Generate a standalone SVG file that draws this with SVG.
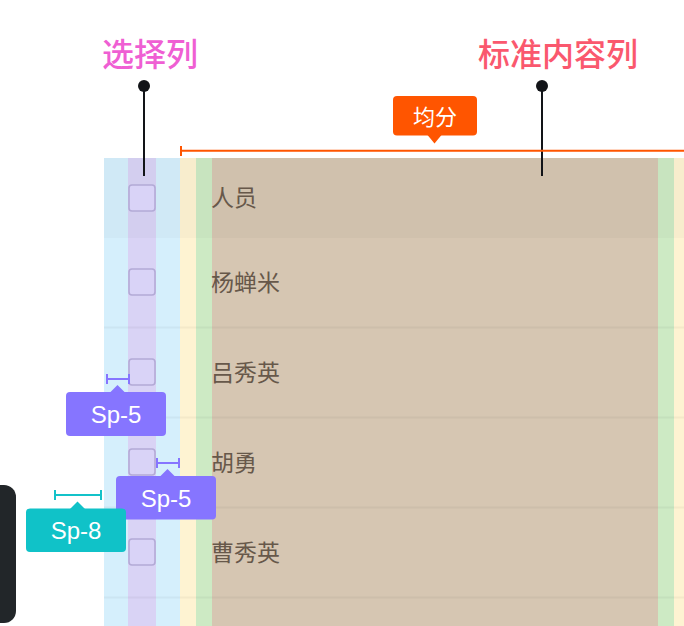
<svg xmlns="http://www.w3.org/2000/svg" width="684" height="626" viewBox="0 0 684 626">
<defs>
<style>
.cjk{font-family:"Noto Sans CJK SC","Noto Sans",sans-serif}
.cell{font-family:"Noto Sans CJK SC",sans-serif;font-size:23px;fill:#67584a}
.tagtxt{font-family:"Liberation Sans","Noto Sans",sans-serif;font-size:24px;fill:#ffffff;text-anchor:middle}
.cb{fill:#d9d3f7;stroke:#b3aad6;stroke-width:1.6}
.rowline{stroke:#000;stroke-opacity:0.04;stroke-width:2}
.pin{stroke:#121418;stroke-width:2}
.meas5{stroke:#8675ff;stroke-width:2;fill:none}
.meas8{stroke:#13c2c9;stroke-width:2;fill:none}
</style>
</defs>
<rect x="0" y="0" width="684" height="626" fill="#ffffff"/>

<g id="table">
  <rect x="104" y="158" width="76" height="468" fill="#d5effc"/>
  <rect x="128" y="158" width="28" height="468" fill="#d9d3f5"/>
  <rect x="180" y="158" width="16" height="468" fill="#fef3d2"/>
  <rect x="196" y="158" width="16" height="468" fill="#cdeac4"/>
  <rect x="212" y="158" width="446" height="468" fill="#d6c6b2"/>
  <rect x="658" y="158" width="16" height="468" fill="#cdeac4"/>
  <rect x="674" y="158" width="10" height="468" fill="#fef3d2"/>
  <rect x="104" y="158" width="580" height="80" fill="#000" fill-opacity="0.025"/>
  <line class="rowline" x1="104" y1="327.5" x2="684" y2="327.5"/>
  <line class="rowline" x1="104" y1="417.5" x2="684" y2="417.5"/>
  <line class="rowline" x1="104" y1="507.5" x2="684" y2="507.5"/>
  <line class="rowline" x1="104" y1="597.5" x2="684" y2="597.5"/>
</g>

<g id="row-header">
  <rect class="cb" x="129" y="185" width="26" height="26" rx="3"/>
  <text class="cell" x="211" y="206">人员</text>
</g>
<g id="row-1">
  <rect class="cb" x="129" y="269" width="26" height="26" rx="3"/>
  <text class="cell" x="211" y="291">杨蝉米</text>
</g>
<g id="row-2">
  <rect class="cb" x="129" y="359" width="26" height="26" rx="3"/>
  <text class="cell" x="211" y="380.5">吕秀英</text>
</g>
<g id="row-3">
  <rect class="cb" x="129" y="449" width="26" height="26" rx="3"/>
  <text class="cell" x="211" y="470.5">胡勇</text>
</g>
<g id="row-4">
  <rect class="cb" x="129" y="539" width="26" height="26" rx="3"/>
  <text class="cell" x="211" y="560.5">曹秀英</text>
</g>

<g id="label-select">
  <text class="cjk" x="102" y="65.5" font-size="32" font-weight="500" fill="#ef5fd3">选择列</text>
</g>
<g id="label-standard">
  <text class="cjk" x="478" y="65.5" font-size="32" font-weight="500" fill="#fa586e">标准内容列</text>
</g>

<g id="connectors">
  <line class="pin" x1="144" y1="86" x2="144" y2="176"/>
  <circle cx="144" cy="86" r="6" fill="#121418"/>
  <line class="pin" x1="542" y1="86" x2="542" y2="176"/>
  <circle cx="542" cy="86" r="6" fill="#121418"/>
  <path d="M181 150.7H684M181 146V156" stroke="#ff5500" stroke-width="2" fill="none"/>
  <path class="meas5" d="M107 379H129M107 374V384M129 374V384"/>
  <path class="meas5" d="M157 463H179M157 458V468M179 458V468"/>
  <path class="meas8" d="M55 495H101M55 490V500M101 490V500"/>
</g>

<g id="tag-junfen">
  <rect x="393" y="96" width="84" height="39.5" rx="4" fill="#ff5500"/>
  <path d="M427.5 135L434.5 143.5L441.5 135Z" fill="#ff5500"/>
  <text class="cjk" x="435" y="124.5" font-size="22" fill="#ffffff" text-anchor="middle">均分</text>
</g>
<g id="tag-sp5-a">
  <rect x="66" y="392" width="100" height="44" rx="4" fill="#8675ff"/>
  <path d="M110 392.5L117.5 385L125 392.5Z" fill="#8675ff"/>
  <text class="tagtxt" x="116" y="422.5">Sp-5</text>
</g>
<g id="tag-sp5-b">
  <rect x="116" y="476" width="100" height="43.5" rx="4" fill="#8675ff"/>
  <path d="M160 476.5L167.5 469L175 476.5Z" fill="#8675ff"/>
  <text class="tagtxt" x="166" y="506.5">Sp-5</text>
</g>
<g id="tag-sp8">
  <rect x="26" y="508.5" width="100" height="43.5" rx="4" fill="#10c2c8"/>
  <path d="M70 509L77.5 501.5L85 509Z" fill="#10c2c8"/>
  <text class="tagtxt" x="76" y="538.5">Sp-8</text>
</g>

<g id="dark-panel">
  <path d="M0 485H4A12 12 0 0 1 16 497V611A12 12 0 0 1 4 623H0Z" fill="#222629"/>
</g>
</svg>
